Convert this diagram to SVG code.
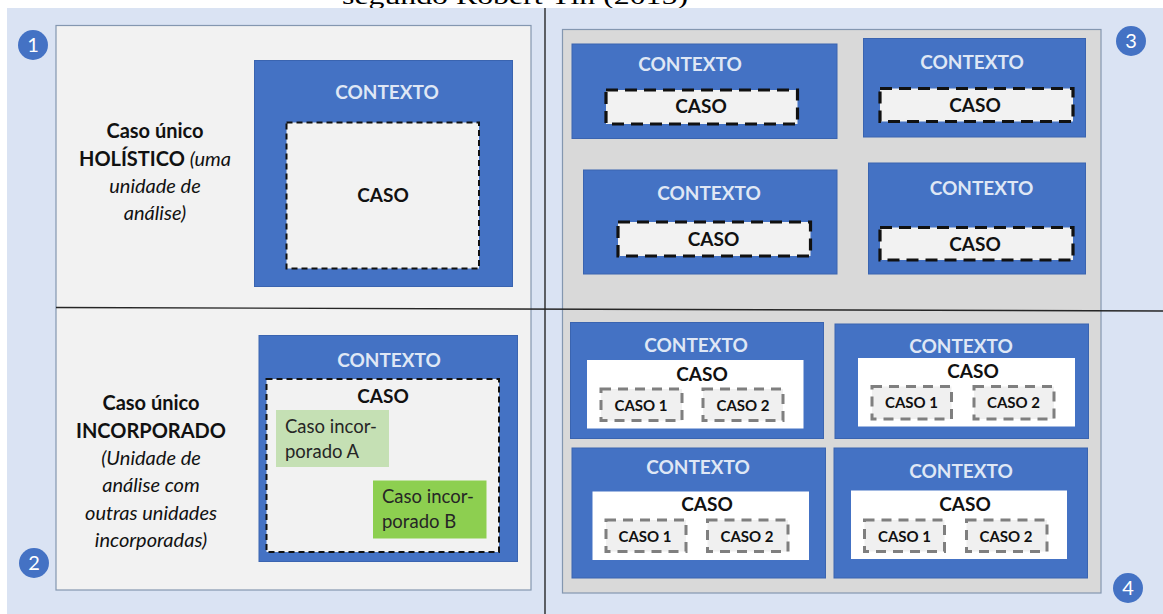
<svg xmlns="http://www.w3.org/2000/svg" width="1163" height="614" viewBox="0 0 1163 614">
  <style>
    .bg { fill: #dae3f3; }
    .panel { fill: #f2f2f2; stroke: #8497b0; stroke-width: 1.2; }
    .gpanel { fill: #d9d9d9; stroke: #8497b0; stroke-width: 1.2; }
    .ctx { fill: #4472c4; stroke: #3a64b0; stroke-width: 1; }
    .ctxt { font-family: Lato, "Liberation Sans", sans-serif; font-weight: 700; font-size: 19px; fill: #dfe7f5; text-anchor: middle; }
    .caso { fill: #f2f2f2; stroke: #111; stroke-width: 2; stroke-dasharray: 6 4; }
    .casoT { fill: #f2f2f2; stroke: #111; stroke-width: 3.2; stroke-dasharray: 12 7; }
    .white { fill: #ffffff; }
    .sub { fill: #f0f0f0; stroke: #7f7f7f; stroke-width: 3; stroke-dasharray: 10 7; }
    .lbl { font-family: Lato, "Liberation Sans", sans-serif; font-weight: 700; font-size: 19px; fill: #111; text-anchor: middle; }
    .lblS { font-family: Lato, "Liberation Sans", sans-serif; font-weight: 700; font-size: 15px; fill: #111; text-anchor: middle; }
    .side { font-family: Lato, "Liberation Sans", sans-serif; font-size: 20px; fill: #111; text-anchor: middle; }
    .b { font-weight: 700; }
    .i { font-style: italic; }
    .inc { font-family: Lato, "Liberation Sans", sans-serif; font-size: 18.5px; fill: #262626; }
    .badge { fill: #4472c4; }
    .num { font-family: Lato, "Liberation Sans", sans-serif; font-size: 20px; fill: #ffffff; text-anchor: middle; }
    .div { stroke: #262626; stroke-width: 1.4; fill: none; }
  </style>

  <!-- caption line, partly outside the sheet -->
  <text x="342" y="3.5" font-family="'Liberation Serif', serif" font-size="24" fill="#000" textLength="346" lengthAdjust="spacingAndGlyphs">segundo Robert Yin (2015)</text>

  <!-- sheet background -->
  <rect class="bg" x="7" y="8" width="1156" height="606"/>

  <!-- quadrant frames -->
  <g id="frame-left">
    <rect class="panel" x="56" y="25.5" width="475" height="564.5"/>
  </g>
  <g id="frame-right">
    <rect class="gpanel" x="562.5" y="29.5" width="538.5" height="563.5"/>
  </g>

  <!-- dividing axes -->
  <g id="connectors">
    <line class="div" x1="545" y1="8" x2="545" y2="614"/>
    <line class="div" x1="56" y1="307.5" x2="1163" y2="311"/>
  </g>

  <!-- quadrant badges -->
  <g id="badge-1"><circle class="badge" cx="33" cy="45" r="15"/><text class="num" x="33" y="52">1</text></g>
  <g id="badge-2"><circle class="badge" cx="34" cy="563" r="15"/><text class="num" x="34" y="570">2</text></g>
  <g id="badge-3"><circle class="badge" cx="1131" cy="41" r="15"/><text class="num" x="1131" y="48">3</text></g>
  <g id="badge-4"><circle class="badge" cx="1128" cy="588" r="15"/><text class="num" x="1128" y="595">4</text></g>

  <!-- 1: single holistic case -->
  <g id="q1-label">
    <text class="side"><tspan class="b" x="155" y="138">Caso único</tspan><tspan class="b" x="155" y="165.5">HOLÍSTICO </tspan><tspan class="i">(uma</tspan><tspan class="i" x="155" y="193">unidade de</tspan><tspan class="i" x="155" y="220">análise)</tspan></text>
  </g>
  <g id="q1-contexto">
    <rect class="ctx" x="254.5" y="60.5" width="258" height="226"/>
    <text class="ctxt" x="387" y="99">CONTEXTO</text>
  </g>
  <g id="q1-caso">
    <rect class="caso" x="286.5" y="122.5" width="192.5" height="146"/>
    <text class="lbl" x="383" y="202">CASO</text>
  </g>

  <!-- 2: single embedded case -->
  <g id="q2-label">
    <text class="side"><tspan class="b" x="151" y="410">Caso único</tspan><tspan class="b" x="151" y="437.5">INCORPORADO</tspan><tspan class="i" x="151" y="465">(Unidade de</tspan><tspan class="i" x="151" y="492">análise com</tspan><tspan class="i" x="151" y="520">outras unidades</tspan><tspan class="i" x="151" y="546.5">incorporadas)</tspan></text>
  </g>
  <g id="q2-contexto">
    <rect class="ctx" x="259" y="335.5" width="258.5" height="226"/>
    <text class="ctxt" x="389" y="366.5">CONTEXTO</text>
  </g>
  <g id="q2-caso">
    <rect class="caso" x="266.5" y="379" width="232.5" height="173"/>
    <text class="lbl" x="383" y="402.5">CASO</text>
  </g>
  <g id="q2-incorporado-a">
    <rect x="276" y="410" width="113" height="57" fill="#c5e0b4"/>
    <text class="inc"><tspan x="285" y="433">Caso incor-</tspan><tspan x="285" y="457.5">porado A</tspan></text>
  </g>
  <g id="q2-incorporado-b">
    <rect x="373" y="480.5" width="113.5" height="58" fill="#8dcf50"/>
    <text class="inc"><tspan x="382" y="503">Caso incor-</tspan><tspan x="382" y="527.5">porado B</tspan></text>
  </g>

  <!-- 3: multiple holistic cases -->
  <g id="q3-a">
    <rect class="ctx" x="572" y="44" width="265" height="94.5"/>
    <text class="ctxt" x="690" y="70.5">CONTEXTO</text>
    <rect class="casoT" x="606" y="90" width="191.5" height="34"/>
    <text class="lbl" x="701" y="113">CASO</text>
  </g>
  <g id="q3-b">
    <rect class="ctx" x="863.5" y="38.5" width="222" height="98.5"/>
    <text class="ctxt" x="972" y="69">CONTEXTO</text>
    <rect class="casoT" x="880" y="88.5" width="193" height="33"/>
    <text class="lbl" x="975" y="111.5">CASO</text>
  </g>
  <g id="q3-c">
    <rect class="ctx" x="583.5" y="170" width="253.5" height="104"/>
    <text class="ctxt" x="709" y="200">CONTEXTO</text>
    <rect class="casoT" x="618" y="222" width="192.5" height="34"/>
    <text class="lbl" x="713.5" y="246">CASO</text>
  </g>
  <g id="q3-d">
    <rect class="ctx" x="868.5" y="163" width="217" height="111"/>
    <text class="ctxt" x="981.5" y="195">CONTEXTO</text>
    <rect class="casoT" x="880" y="227.5" width="193" height="32.5"/>
    <text class="lbl" x="975" y="250.5">CASO</text>
  </g>

  <!-- 4: multiple embedded cases -->
  <g id="q4-a">
    <rect class="ctx" x="570.5" y="322.5" width="253" height="116"/>
    <text class="ctxt" x="696" y="352">CONTEXTO</text>
    <rect class="white" x="587" y="360" width="216.5" height="68.5"/>
    <text class="lbl" x="702" y="380.5">CASO</text>
    <rect class="sub" x="601" y="389" width="81" height="31.5"/>
    <text class="lblS" x="641" y="411">CASO 1</text>
    <rect class="sub" x="703" y="389" width="80" height="31.5"/>
    <text class="lblS" x="743" y="411">CASO 2</text>
  </g>
  <g id="q4-b">
    <rect class="ctx" x="835" y="324" width="253.5" height="114.5"/>
    <text class="ctxt" x="961" y="353">CONTEXTO</text>
    <rect class="white" x="858" y="358" width="217" height="68.5"/>
    <text class="lbl" x="973" y="377.5">CASO</text>
    <rect class="sub" x="872" y="386.5" width="79.5" height="32.5"/>
    <text class="lblS" x="911.5" y="408">CASO 1</text>
    <rect class="sub" x="974" y="386.5" width="80" height="32.5"/>
    <text class="lblS" x="1013.5" y="408">CASO 2</text>
  </g>
  <g id="q4-c">
    <rect class="ctx" x="572" y="448" width="253.5" height="130"/>
    <text class="ctxt" x="698" y="474">CONTEXTO</text>
    <rect class="white" x="592.5" y="491.5" width="216.5" height="68.5"/>
    <text class="lbl" x="707" y="511">CASO</text>
    <rect class="sub" x="606" y="520" width="80" height="31.5"/>
    <text class="lblS" x="645" y="542">CASO 1</text>
    <rect class="sub" x="707.5" y="520" width="80.5" height="31.5"/>
    <text class="lblS" x="747" y="542">CASO 2</text>
  </g>
  <g id="q4-d">
    <rect class="ctx" x="834" y="448" width="253.5" height="130"/>
    <text class="ctxt" x="961" y="478">CONTEXTO</text>
    <rect class="white" x="851" y="490.5" width="216" height="68.5"/>
    <text class="lbl" x="965" y="511">CASO</text>
    <rect class="sub" x="864.5" y="520" width="80" height="31.5"/>
    <text class="lblS" x="904.5" y="542">CASO 1</text>
    <rect class="sub" x="966.5" y="520" width="80.5" height="31.5"/>
    <text class="lblS" x="1006" y="542">CASO 2</text>
  </g>
</svg>
